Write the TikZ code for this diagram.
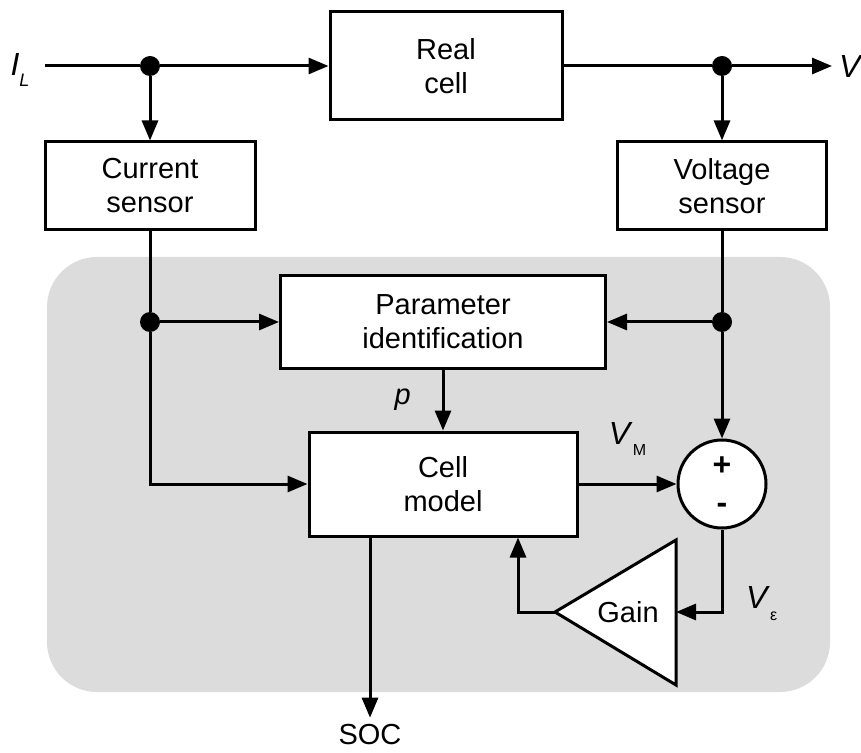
\documentclass[tikz,border=0pt]{standalone}
\usepackage{fontspec}
\setmainfont{Liberation Sans}
\usetikzlibrary{arrows.meta,positioning}
\definecolor{panelgray}{RGB}{220,220,220}
\tikzset{
  block/.style={draw, line width=1.5pt, fill=white, align=center,
                font=\fontsize{14.5}{17}\selectfont, inner sep=0pt},
  wire/.style={line width=1.5pt},
  sig/.style={wire, -{Triangle[length=10pt,width=8pt]}},
  dot/.style={circle, fill=black, minimum size=10pt, inner sep=0pt},
  lbl/.style={font=\fontsize{14.5}{17}\selectfont},
  biglbl/.style={font=\fontsize{16}{19}\selectfont}
}
\begin{document}
\begin{tikzpicture}[x=0.5pt,y=-0.5pt]
  \useasboundingbox (0,0) rectangle (861,753);

  %--- grey panel ---
  \fill[panelgray, rounded corners=25pt] (47,257) rectangle (830,692);

  %--- blocks ---
  \node[block, minimum width=116pt, minimum height=54pt] (cell) at (446,66) {Real\\cell};
  \node[block, minimum width=105pt, minimum height=44pt] (isens) at (150,186) {Current\\sensor};
  \node[block, minimum width=104.5pt, minimum height=44pt] (vsens) at (722,186) {Voltage\\sensor};
  \node[block, minimum width=162.5pt, minimum height=46pt] (param) at (443,322) {Parameter\\identification};
  \node[block, minimum width=134pt, minimum height=52pt] (model) at (443,484) {Cell\\model};
  \node[circle, draw, line width=1.5pt, fill=white, minimum size=44pt, inner sep=0pt] (sum) at (722,484) {};
  \node[biglbl] (plus) at (722,466) {\textbf{+}};
  \node[biglbl] (minus) at (722,508) {\textbf{-}};

  %--- gain ---
  \coordinate (gaintip) at (555,612);
  \coordinate (gaintop) at (676,540);
  \coordinate (gainbot) at (676,685);
  \coordinate (gainin) at (676,612);
  \draw[wire, fill=white] (gaintip) -- (gaintop) -- (gainbot) -- cycle;
  \node[lbl] (gain) at (628,612) {Gain};

  %--- junctions ---
  \node[dot] (d1) at (150,66) {};
  \node[dot] (d2) at (722,66) {};
  \node[dot] (d3) at (150,322) {};
  \node[dot] (d4) at (722,322) {};
  \coordinate (in) at (45,66);
  \coordinate (out) at (832,66);
  \coordinate (fb) at (518,600);

  %--- labels ---
  \node[biglbl] (il) at (20,70) {\textit{I}\raisebox{-0.6ex}{\small\textit{L}}};
  \node[biglbl] (v) at (851,66) {\textit{V}};
  \node[lbl] (soc) at (370,735) {SOC};

  %--- top path ---
  \draw[wire] (in) -- (d1);
  \draw[sig] (d1) -- (cell);
  \draw[wire] (cell) -- (d2);
  \draw[sig] (d2) -- (out);
  \draw[sig] (d1) -- (isens);
  \draw[sig] (d2) -- (vsens);

  %--- observer ---
  \draw[wire] (isens) -- (d3);
  \draw[sig] (d3) -- (param);
  \draw[sig] (d3) |- (model);
  \draw[wire] (vsens) -- (d4);
  \draw[sig] (d4) -- (param);
  \draw[sig] (d4) -- (sum);
  \draw[sig] (param) -- (model)
    node[midway, left=12pt, lbl] {\textit{p}};
  \draw[sig] (model) -- (sum)
    node[pos=0.5, above=10pt, biglbl] {\textit{V}\raisebox{-0.7ex}{\footnotesize M}};
  \draw[sig] (sum) |- (gainin)
    node[pos=0.45, right=8pt, biglbl] {\textit{V}\raisebox{-0.7ex}{\footnotesize ε}};
  \draw[sig] (gaintip) -| (model.south -| fb);
  \draw[sig] (model.south -| soc) -- (soc);
\end{tikzpicture}
\end{document}
